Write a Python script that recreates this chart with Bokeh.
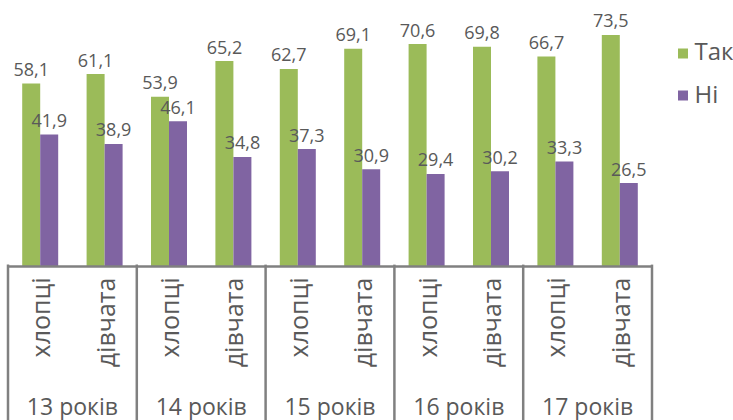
from bokeh.plotting import figure
from bokeh.models import ColumnDataSource, Range1d
from bokeh.core.properties import value
from bokeh.embed import file_html
from bokeh.resources import INLINE
import math

# ---- data ----
ages = ["13 років", "14 років", "15 років", "16 років", "17 років"]
genders = ["хлопці", "дівчата"]
series_names = ["Так", "Ні"]
tak = [58.1, 61.1, 53.9, 65.2, 62.7, 69.1, 70.6, 69.8, 66.7, 73.5]
ni = [41.9, 38.9, 46.1, 34.8, 37.3, 30.9, 29.4, 30.2, 33.3, 26.5]

# ---- style ----
GREEN = "#9BBB59"
PURPLE = "#8064A2"
TEXT = "#595959"
LINE = "#808080"
FONT = value("Open Sans")

W, H = 733, 420
PX_PER_CAT = 64.4
PX_PER_VAL = 3.15
BASE_PX = 266          # baseline distance from figure top
LEFT_PX = 7.5          # first group separator from figure left
x0 = -0.5 - LEFT_PX / PX_PER_CAT
x1 = x0 + W / PX_PER_CAT
y1 = BASE_PX / PX_PER_VAL
y0 = -(H - BASE_PX) / PX_PER_VAL

def px_x(px):  # figure px -> data x
    return x0 + px / PX_PER_CAT

def px_y(py):  # figure px (from top) -> data y
    return (BASE_PX - py) / PX_PER_VAL

n = len(tak)
idx = list(range(n))
bw = 18 / PX_PER_CAT

fmt = lambda v: f"{v:.1f}".replace(".", ",")

src = ColumnDataSource(dict(
    x=idx,
    xg=[i - bw / 2 for i in idx],
    xp=[i + bw / 2 for i in idx],
    tak=tak, ni=ni,
    tak_lbl=[fmt(v) for v in tak],
    ni_lbl=[fmt(v) for v in ni],
    gender=[genders[i % 2] for i in idx],
))

p = figure(width=W, height=H, output_backend="svg", toolbar_location=None,
           x_range=Range1d(x0, x1), y_range=Range1d(y0, y1),
           x_axis_type=None, y_axis_type=None, min_border=0)
p.outline_line_color = None
p.xgrid.visible = False
p.ygrid.visible = False

p.vbar(x="xg", top="tak", width=bw, bottom=0, source=src, fill_color=GREEN, line_color=None)
p.vbar(x="xp", top="ni", width=bw, bottom=0, source=src, fill_color=PURPLE, line_color=None)

p.text(x="xg", y="tak", text="tak_lbl", source=src, text_align="center",
       text_baseline="alphabetic", y_offset=-14, text_font=FONT,
       text_font_size="18px", text_color=TEXT)
p.text(x="xp", y="ni", text="ni_lbl", source=src, text_align="center",
       text_baseline="alphabetic", y_offset=-14, text_font=FONT,
       text_font_size="18px", text_color=TEXT)

# category axis: baseline, group separators
n_groups = len(ages)
bounds = [2 * k - 0.5 for k in range(n_groups + 1)]
p.segment(x0=[bounds[0]], y0=[0], x1=[bounds[-1]], y1=[0], line_color=LINE, line_width=2.5)
p.segment(x0=bounds, y0=[0.6] * len(bounds), x1=bounds, y1=[y0] * len(bounds),
          line_color=LINE, line_width=2.5)

# rotated gender labels
p.text(x="x", y=px_y(277), text="gender", source=src, angle=math.pi / 2,
       text_align="right", text_baseline="middle", text_font=FONT,
       text_font_size="25px", text_color=TEXT)

# age group labels
p.text(x=[2 * k + 0.5 for k in range(n_groups)], y=[px_y(405)] * n_groups, text=ages,
       text_align="center", text_baseline="alphabetic", text_font=FONT,
       text_font_size="23px", text_color=TEXT)

# legend
leg_y_sq = [px_y(53), px_y(95)]
leg_y_tx = [px_y(50), px_y(93)]
p.scatter(x=[px_x(682.5)] * 2, y=leg_y_sq, marker="square", size=10,
          fill_color=[GREEN, PURPLE], line_color=None)
p.text(x=[px_x(694)] * 2, y=leg_y_tx, text=series_names, text_align="left",
       text_baseline="alphabetic", text_font=FONT, text_font_size="24px", text_color=TEXT)

open("out.html", "w").write(file_html(p, INLINE))
